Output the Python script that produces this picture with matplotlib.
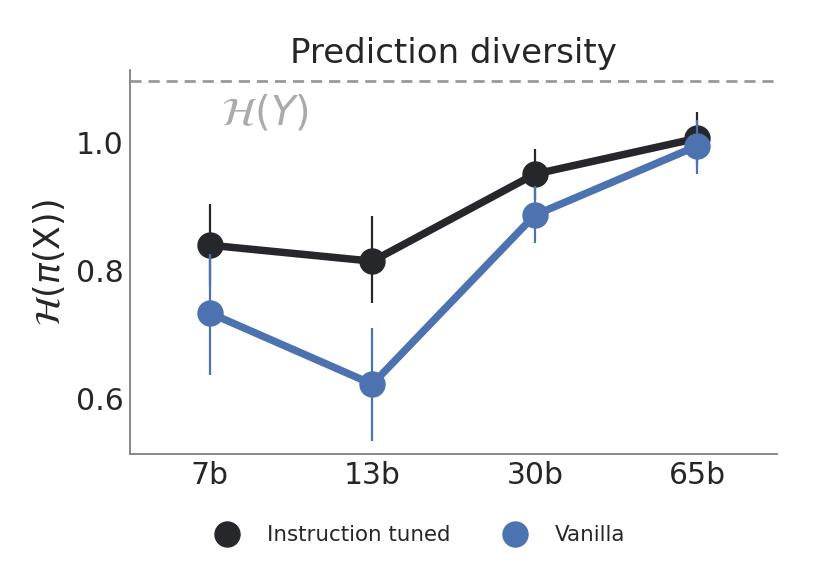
import matplotlib
matplotlib.use("Agg")
import matplotlib.pyplot as plt
from matplotlib.lines import Line2D

categories = ["7b", "13b", "30b", "65b"]
tuned_vals = [0.839, 0.814, 0.950, 1.006]
tuned_lo = [0.776, 0.748, 0.910, 0.965]
tuned_hi = [0.903, 0.884, 0.990, 1.047]
vanilla_vals = [0.733, 0.622, 0.886, 0.994]
vanilla_lo = [0.637, 0.533, 0.842, 0.950]
vanilla_hi = [0.826, 0.709, 0.932, 1.034]
ref_entropy = 1.095

black = "#26272b"
blue = "#4c72b0"

fig = plt.figure(figsize=(8.3, 5.65), dpi=100)
ax = fig.add_axes([0.157, 0.196, 0.779, 0.680])
x = list(range(len(categories)))

for vals, lo, hi, col, z in [(tuned_vals, tuned_lo, tuned_hi, black, 2),
                             (vanilla_vals, vanilla_lo, vanilla_hi, blue, 3)]:
    ax.vlines(x, lo, hi, color=col, lw=1.6, zorder=z)
    ax.plot(x, vals, color=col, lw=5.4, marker="o", markersize=18, zorder=z,
            solid_capstyle="butt")

ax.axhline(ref_entropy, color="#999999", lw=2, ls=(0, (4, 2.5)), zorder=1)
ax.text(0.34, 1.045, r"$\mathcal{H}(Y)$", color="#aaaaaa", fontsize=29,
        ha="center", va="center")

ax.set_xlim(-0.49, 3.49)
ax.set_ylim(0.5125, 1.1125)
ax.set_xticks(x)
ax.set_xticklabels(categories)
ax.set_yticks([0.6, 0.8, 1.0])
ax.set_yticklabels(["0.6", "0.8", "1.0"])
ax.tick_params(axis="both", length=0, labelsize=21.5, pad=5, colors="#262626")
ax.set_ylabel(r"$\mathcal{H}(\pi(\mathrm{X}))$", fontsize=25, color="#262626", labelpad=6)
ax.set_title("Prediction diversity", fontsize=24.5, color="#262626", pad=5)
for s in ["top", "right"]:
    ax.spines[s].set_visible(False)
for s in ["left", "bottom"]:
    ax.spines[s].set_color("#808080")
    ax.spines[s].set_linewidth(1.3)

handles = [Line2D([], [], ls="", marker="o", markersize=18, color=black),
           Line2D([], [], ls="", marker="o", markersize=18, color=blue)]
fig.legend(handles, ["Instruction tuned", "Vanilla"], loc="center",
           bbox_to_anchor=(0.5006, 0.053), ncol=2, frameon=False, fontsize=15.4,
           columnspacing=2.05, handletextpad=0.85, labelcolor="#262626")

fig.savefig("out.png", dpi=100)
